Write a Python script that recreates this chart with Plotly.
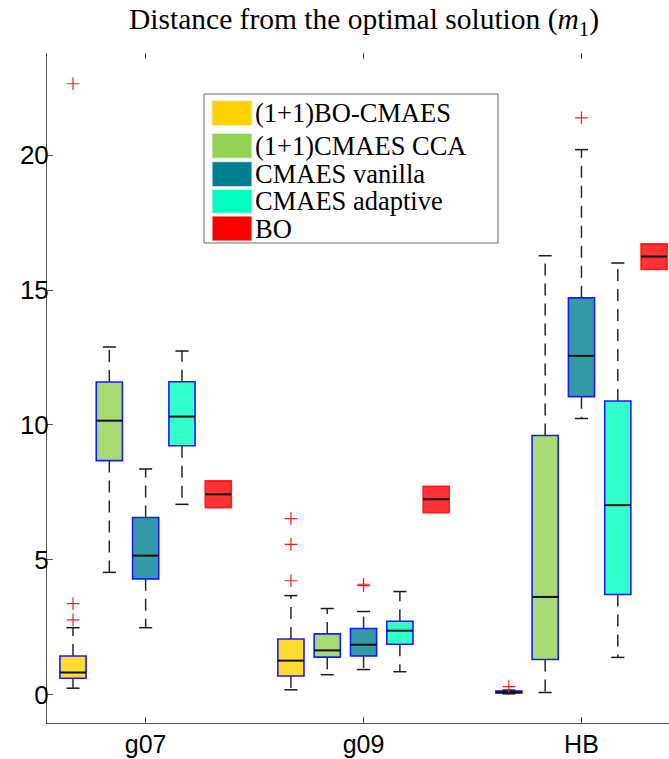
import plotly.graph_objects as go

# ---------------- data ----------------
groups = ["g07", "g09", "HB"]
series = ["(1+1)BO-CMAES", "(1+1)CMAES CCA", "CMAES vanilla", "CMAES adaptive", "BO"]

# per series: one value per group (g07, g09, HB)
q1_vals = [
    [0.62, 0.70, 0.07],
    [8.68, 1.40, 1.31],
    [4.30, 1.44, 11.05],
    [9.23, 1.88, 3.72],
    [6.94, 6.75, 15.76],
]
median_vals = [
    [0.83, 1.27, 0.10],
    [10.16, 1.65, 3.63],
    [5.16, 1.86, 12.56],
    [10.31, 2.38, 7.03],
    [7.43, 7.25, 16.24],
]
q3_vals = [
    [1.44, 2.07, 0.14],
    [11.59, 2.26, 9.61],
    [6.57, 2.46, 14.71],
    [11.60, 2.73, 10.89],
    [7.93, 7.73, 16.71],
]
lower_whisker = [
    [0.25, 0.19, 0.04],
    [4.54, 0.75, 0.09],
    [2.49, 0.94, 10.24],
    [7.06, 0.86, 1.39],
    [6.94, 6.75, 15.76],
]
upper_whisker = [
    [2.49, 3.68, 0.18],
    [12.89, 3.20, 16.27],
    [8.37, 3.09, 20.20],
    [12.74, 3.83, 16.00],
    [7.93, 7.73, 16.71],
]
outliers = [
    [[2.78, 3.38, 22.64], [4.23, 5.58, 6.53], [0.31]],
    [[], [], []],
    [[], [4.05, 4.10], [21.38]],
    [[], [], []],
    [[], [], []],
]
y_ticks = [0, 5, 10, 15, 20]

# ---------------- style ----------------
base_colors = [(255, 209, 0), (146, 210, 81), (0, 127, 144), (0, 255, 191), (255, 0, 0)]
box_width = 0.72
cap_half = 0.18

def pos(g, i):
    return 6 * g + i + 1

fig = go.Figure()

for i, name in enumerate(series):
    r, g_, b = base_colors[i]
    fill = f"rgba({r},{g_},{b},0.8)"
    outline = fill if name == "BO" else "#1a1aff"
    xs = [pos(g, i) for g in range(3)]

    # whiskers (dashed) and caps
    wx, wy, cx, cy = [], [], [], []
    for g in range(3):
        p = pos(g, i)
        if upper_whisker[i][g] > q3_vals[i][g]:
            wx += [p, p, None]
            wy += [q3_vals[i][g], upper_whisker[i][g], None]
            cx += [p - cap_half, p + cap_half, None]
            cy += [upper_whisker[i][g], upper_whisker[i][g], None]
        if lower_whisker[i][g] < q1_vals[i][g]:
            wx += [p, p, None]
            wy += [q1_vals[i][g], lower_whisker[i][g], None]
            cx += [p - cap_half, p + cap_half, None]
            cy += [lower_whisker[i][g], lower_whisker[i][g], None]
    fig.add_trace(go.Scatter(x=wx, y=wy, mode="lines",
                             line=dict(color="#2a2a2a", width=1.5, dash="12px,8px"),
                             hoverinfo="skip", showlegend=False))
    fig.add_trace(go.Scatter(x=cx, y=cy, mode="lines",
                             line=dict(color="#1a1a1a", width=1.5),
                             hoverinfo="skip", showlegend=False))

    # boxes
    fig.add_trace(go.Bar(
        x=xs,
        base=q1_vals[i],
        y=[q3_vals[i][g] - q1_vals[i][g] for g in range(3)],
        width=box_width,
        marker=dict(color=fill, line=dict(color=outline, width=1.6)),
        name=name, showlegend=False,
    ))

    # medians
    mx, my = [], []
    for g in range(3):
        p = pos(g, i)
        mx += [p - box_width / 2, p + box_width / 2, None]
        my += [median_vals[i][g], median_vals[i][g], None]
    fig.add_trace(go.Scatter(x=mx, y=my, mode="lines",
                             line=dict(color="#111111", width=2),
                             hoverinfo="skip", showlegend=False))

    # outliers
    ox, oy = [], []
    for g in range(3):
        for v in outliers[i][g]:
            ox.append(pos(g, i))
            oy.append(v)
    if ox:
        fig.add_trace(go.Scatter(x=ox, y=oy, mode="markers",
                                 marker=dict(symbol="cross-thin", size=9,
                                             line=dict(color="#ff1a1a", width=1.2)),
                                 hoverinfo="skip", showlegend=False))

# dummy trace for top tick axis
tick_pos = [pos(g, 2) for g in range(3)]
fig.add_trace(go.Scatter(x=tick_pos, y=[None] * 3, xaxis="x2", mode="markers",
                         showlegend=False, hoverinfo="skip"))

# ---------------- layout ----------------
W, H = 669, 759
L, R, T, B = 47, 0, 53, 36
pw, ph = W - L - R, H - T - B

def px_x(px):                 # page pixel -> paper coordinate
    return (px - L) / pw

def px_y(py):
    return (H - B - py) / ph

shapes = []
annotations = []
# manual legend
shapes.append(dict(type="rect", xref="paper", yref="paper",
                   x0=px_x(204), x1=px_x(498), y0=px_y(243), y1=px_y(94),
                   line=dict(color="#6e6e6e", width=1), fillcolor="white", layer="above"))
legend_rows = [(100.7, 125.7), (133.3, 158.3), (161.7, 186.7), (189.3, 213.3), (216, 241)]
for i, name in enumerate(series):
    r, g_, b = base_colors[i]
    y0, y1 = legend_rows[i]
    shapes.append(dict(type="rect", xref="paper", yref="paper",
                       x0=px_x(212), x1=px_x(252), y0=px_y(y1), y1=px_y(y0),
                       line=dict(color="#eeeeee", width=1),
                       fillcolor=f"rgb({r},{g_},{b})", layer="above"))
    annotations.append(dict(xref="paper", yref="paper", x=px_x(254), y=px_y((y0 + y1) / 2),
                            text=name, showarrow=False, xanchor="left", yanchor="middle",
                            borderpad=0,
                            font=dict(family="Liberation Serif", size=26.5, color="black")))

axis_color = "#555555"
fig.update_layout(
    width=W, height=H,
    margin=dict(l=L, r=R, t=T, b=B, autoexpand=False),
    plot_bgcolor="white", paper_bgcolor="white",
    barmode="overlay",
    showlegend=False,
    title=dict(text="Distance from the optimal solution (<i>m</i><sub>1</sub>)",
               x=364 / W, xanchor="center", xref="container",
               y=1 - 19 / H, yanchor="middle", automargin=False,
               font=dict(family="Liberation Serif", size=29.5, color="black")),
    xaxis=dict(range=[0.284, 17.41], tickvals=tick_pos, ticktext=groups,
               ticks="inside", ticklen=6, tickcolor=axis_color, tickwidth=1,
               showline=True, linecolor=axis_color, linewidth=1,
               showgrid=False, zeroline=False, automargin=False,
               tickfont=dict(family="Liberation Sans", size=25, color="black"),
               ticklabelstandoff=-1),
    xaxis2=dict(range=[0.284, 17.41], overlaying="x", side="top", tickvals=tick_pos,
                ticks="inside", ticklen=6, tickcolor=axis_color, tickwidth=1,
                showticklabels=False, showline=False, showgrid=False, zeroline=False,
                automargin=False),
    yaxis=dict(range=[-1.04, 23.78], tickvals=y_ticks,
               ticks="inside", ticklen=6, tickcolor=axis_color, tickwidth=1,
               showline=True, linecolor=axis_color, linewidth=1,
               showgrid=False, zeroline=False, automargin=False,
               tickfont=dict(family="Liberation Sans", size=26, color="black"),
               ticklabelstandoff=-8),
    shapes=shapes,
    annotations=annotations,
)

fig.write_html("out.html",
               config={"displayModeBar": False, "staticPlot": True},
               post_script="document.body.style.margin='0';document.body.style.overflow='hidden';")
